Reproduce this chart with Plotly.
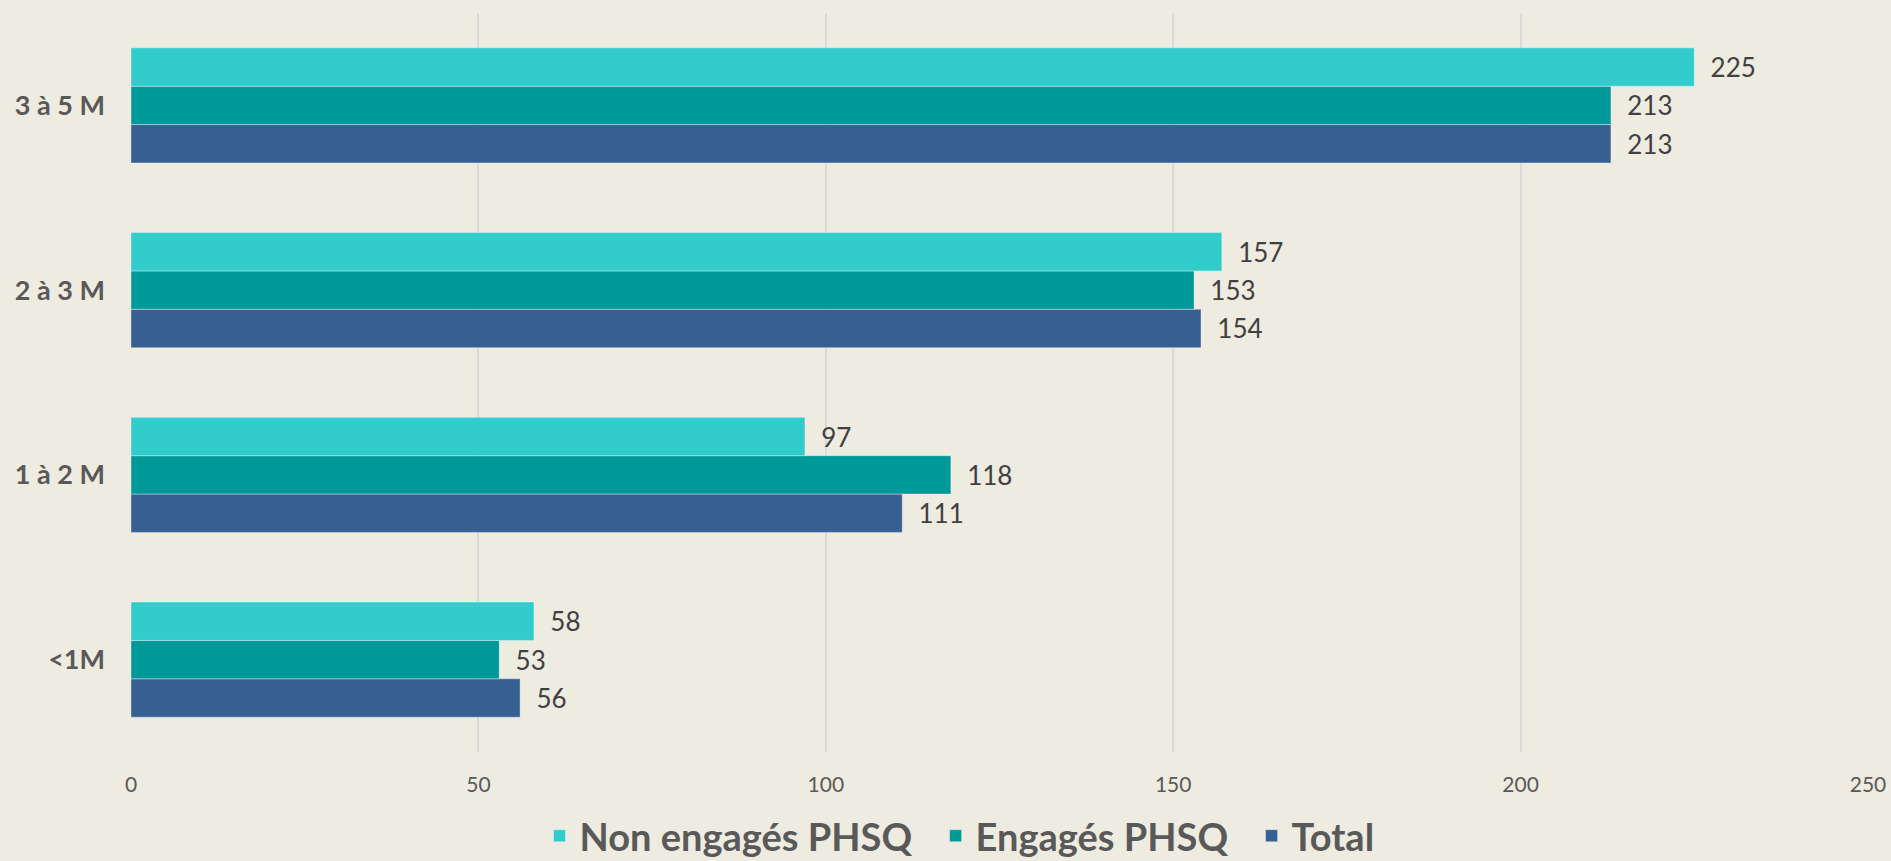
import plotly.graph_objects as go

categories = ["<1M", "1 à 2 M", "2 à 3 M", "3 à 5 M"]
non_engages = [58, 97, 157, 225]
engages = [53, 118, 153, 213]
total = [56, 111, 154, 213]
x_ticks = [0, 50, 100, 150, 200, 250]

series = [
    ("Total", total, "#366092"),
    ("Engagés PHSQ\u00a0\u00a0", engages, "#009999"),
    ("Non engagés PHSQ\u00a0\u00a0", non_engages, "#33CCCC"),
]

fig = go.Figure()
for name, vals, color in series:
    fig.add_trace(go.Bar(
        y=categories, x=vals, name=name, orientation="h",
        marker=dict(color=color, line=dict(color="rgba(255,255,255,0.35)", width=1)),
        text=vals, texttemplate="\u00a0\u00a0%{x}", textposition="outside",
        textfont=dict(family="Lato, sans-serif", size=26, color="#404040"),
        constraintext="none", cliponaxis=False,
    ))

fig.update_layout(
    width=1891, height=861,
    paper_bgcolor="#EEEBE0", plot_bgcolor="#EEEBE0",
    barmode="group", bargap=0.377, bargroupgap=0,
    margin=dict(l=131, r=23, t=13, b=109, autoexpand=False),
    font=dict(family="Lato, sans-serif", color="#595959"),
    showlegend=True,
    legend=dict(orientation="h", traceorder="reversed", x=0.477, xanchor="center",
                yref="container", y=0.029, yanchor="middle",
                font=dict(size=38, color="#595959", family="Lato, sans-serif", weight="bold"),
                itemwidth=30, bgcolor="rgba(0,0,0,0)"),
    xaxis=dict(range=[0, 250], tickvals=x_ticks, showgrid=True, gridcolor="#DADADA", gridwidth=2,
               zeroline=False, showline=False, tickfont=dict(size=21, color="#595959"),
               ticks="", ticklabelstandoff=18, fixedrange=True),
    yaxis=dict(categoryorder="array", categoryarray=categories, showgrid=False, zeroline=False,
               tickfont=dict(size=27, color="#595959", family="Lato, sans-serif", weight="bold"),
               ticks="", ticklabelstandoff=25, fixedrange=True),
)

fig.write_html("out.html", config={"displayModeBar": False},
               post_script="document.body.style.margin='0';document.body.style.overflow='hidden';")
